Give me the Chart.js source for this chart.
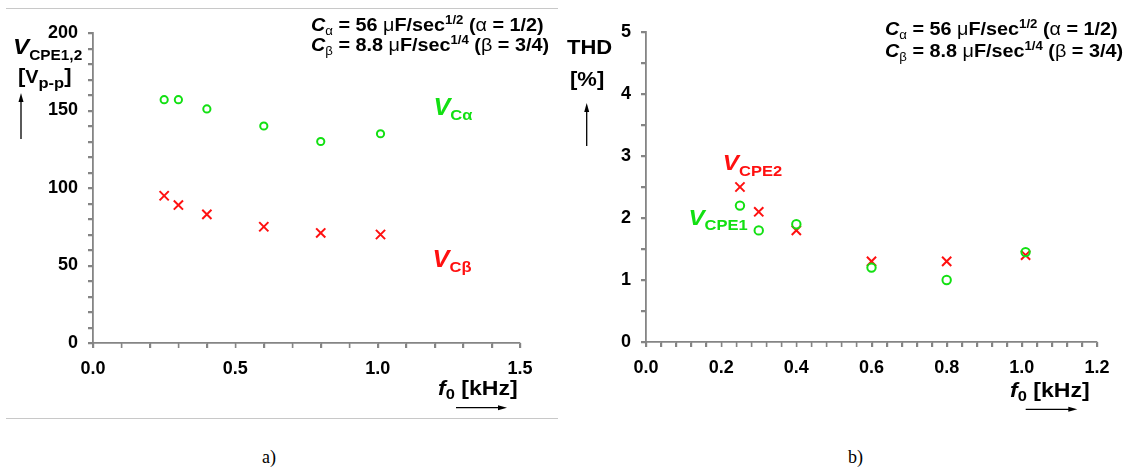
<!DOCTYPE html>
<html>
<head>
<meta charset="utf-8">
<script src="https://cdn.jsdelivr.net/npm/chart.js@4.4.1/dist/chart.umd.min.js"></script>
<style>
  body { margin: 0; background: #fff; }
  #wrap { position: relative; width: 1132px; height: 471px; overflow: hidden; }
  canvas { position: absolute; top: 0; }
  .rule { position: absolute; left: 6px; width: 552px; height: 1px; background: #c8c8c8; }
  .cap { position: absolute; font: 18px "Liberation Serif", serif; color: #000; }
</style>
</head>
<body>
<div id="wrap">
  <div class="rule" style="top:8px"></div>
  <div class="rule" style="top:418px"></div>
  <canvas id="graphA" width="560" height="420" style="left:0"></canvas>
  <canvas id="graphB" width="572" height="420" style="left:560px"></canvas>
  <div class="cap" style="left:262px;top:447px">a)</div>
  <div class="cap" style="left:848px;top:447px">b)</div>
</div>
<script>
// measured frequencies [kHz]
const freqs = [0.25, 0.3, 0.4, 0.6, 0.8, 1.01];
// a) amplitudes [Vp-p]
const vCalpha = [157, 157, 151, 140, 130, 135];
const vCbeta = [95, 89, 83, 75, 71, 70];
// b) THD [%]
const thdCpe1 = [2.2, 1.8, 1.9, 1.2, 1.0, 1.45];
const thdCpe2 = [2.5, 2.1, 1.8, 1.3, 1.3, 1.4];
// labelled ticks
const xTicksA = [0, 0.5, 1.0, 1.5];
const yTicksA = [0, 50, 100, 150, 200];
const xTicksB = [0, 0.2, 0.4, 0.6, 0.8, 1.0, 1.2];
const yTicksB = [0, 1, 2, 3, 4, 5];

const GREEN = '#12e012';
const RED = '#ff1010';
const AXIS = '#858585';
const FAM = '"Liberation Sans", Arial, sans-serif';
const f = (s) => s + ' ' + FAM;

function pts(xs, ys) {
  return xs.map((x, i) => ({ x: x, y: ys[i] }));
}

function labelFrom(list, digits) {
  return function (v) {
    const hit = list.find(t => Math.abs(t - v) < 1e-6);
    return hit === undefined ? '' : hit.toFixed(digits);
  };
}

// draws a run of text pieces (sub/superscripts, mixed fonts), slightly widened
function drawRich(ctx, x, y, parts, color) {
  ctx.save();
  ctx.translate(x, y);
  ctx.scale(1.1, 1);
  ctx.textBaseline = 'alphabetic';
  ctx.textAlign = 'left';
  let cx = 0;
  parts.forEach(p => {
    ctx.font = p.font;
    ctx.fillStyle = p.color || color || '#000';
    ctx.fillText(p.t, cx, p.dy || 0);
    cx += ctx.measureText(p.t).width;
  });
  ctx.restore();
}

function arrow(ctx, x1, y1, x2, y2) {
  const a = Math.atan2(y2 - y1, x2 - x1);
  ctx.save();
  ctx.strokeStyle = '#000';
  ctx.fillStyle = '#000';
  ctx.lineWidth = 1.3;
  ctx.beginPath();
  ctx.moveTo(x1, y1);
  ctx.lineTo(x2 - 5 * Math.cos(a), y2 - 5 * Math.sin(a));
  ctx.stroke();
  ctx.beginPath();
  ctx.moveTo(x2, y2);
  ctx.lineTo(x2 - 9 * Math.cos(a) + 2.5 * Math.sin(a), y2 - 9 * Math.sin(a) - 2.5 * Math.cos(a));
  ctx.lineTo(x2 - 9 * Math.cos(a) - 2.5 * Math.sin(a), y2 - 9 * Math.sin(a) + 2.5 * Math.cos(a));
  ctx.closePath();
  ctx.fill();
  ctx.restore();
}

const richLabels = {
  id: 'richLabels',
  afterDraw(chart, args, opts) {
    const ctx = chart.ctx;
    const area = chart.chartArea;
    // small outward tick marks on both axes
    ctx.save();
    ctx.strokeStyle = AXIS;
    ctx.lineWidth = 1.4;
    ctx.beginPath();
    chart.scales.x.ticks.forEach(t => {
      const px = Math.round(chart.scales.x.getPixelForValue(t.value)) + 0.5;
      ctx.moveTo(px, area.bottom);
      ctx.lineTo(px, area.bottom + 5);
    });
    chart.scales.y.ticks.forEach(t => {
      const py = Math.round(chart.scales.y.getPixelForValue(t.value)) + 0.5;
      ctx.moveTo(area.left, py);
      ctx.lineTo(area.left - 5, py);
    });
    ctx.stroke();
    ctx.restore();

    (opts.items || []).forEach(it => {
      let x = it.x, y = it.y;
      if (it.data) {
        x = chart.scales.x.getPixelForValue(it.data[0]);
        y = chart.scales.y.getPixelForValue(it.data[1]);
      }
      drawRich(ctx, x, y, it.parts, it.color);
    });
    (opts.arrows || []).forEach(a => arrow(ctx, a[0], a[1], a[2], a[3]));
  }
};

function paramLines(x, y1, y2) {
  const B = f('bold 18px'), N = f('18px'), S = f('12px'), SB = f('bold 12px'), CI = f('italic bold 18px');
  return [
    { x: x, y: y1, parts: [
      { t: 'C', font: CI }, { t: 'α', font: S, dy: 4 }, { t: ' = 56 ', font: B },
      { t: 'μ', font: N }, { t: 'F/sec', font: B }, { t: '1/2', font: SB, dy: -7 },
      { t: ' (', font: B }, { t: 'α', font: N }, { t: ' = 1/2)', font: B }] },
    { x: x, y: y2, parts: [
      { t: 'C', font: CI }, { t: 'β', font: S, dy: 4 }, { t: ' = 8.8 ', font: B },
      { t: 'μ', font: N }, { t: 'F/sec', font: B }, { t: '1/4', font: SB, dy: -7 },
      { t: ' (', font: B }, { t: 'β', font: N }, { t: ' = 3/4)', font: B }] }
  ];
}

function fTitle(x, y) {
  return { x: x, y: y, parts: [
    { t: 'f', font: f('italic bold 21px') }, { t: '0', font: f('bold 15px'), dy: 4 },
    { t: ' [kHz]', font: f('bold 21px') }] };
}

function axisCfg(min, max, step, list, digits, fit) {
  return {
    type: 'linear', min: min, max: max,
    ticks: {
      stepSize: step, autoSkip: false, maxRotation: 0, includeBounds: true,
      color: '#000', font: { family: FAM, size: 18, weight: 'bold' }, padding: 10,
      callback: labelFrom(list, digits)
    },
    grid: { drawOnChartArea: false, tickLength: 5, color: AXIS, tickColor: AXIS, lineWidth: 1.3 },
    border: { color: AXIS, width: 1.8 },
    afterFit: fit
  };
}

const circleSet = (data, r) => ({
  data: data, pointStyle: 'circle', pointRadius: r, borderWidth: 2,
  borderColor: GREEN, backgroundColor: 'rgba(0,0,0,0)', showLine: false
});
const crossSet = (data) => ({
  data: data, pointStyle: 'crossRot', pointRadius: 6.5, borderWidth: 2,
  borderColor: RED, backgroundColor: RED, showLine: false
});

// a) amplitude
new Chart(document.getElementById('graphA'), {
  type: 'scatter',
  data: { datasets: [circleSet(pts(freqs, vCalpha), 3.6), crossSet(pts(freqs, vCbeta))] },
  options: {
    responsive: false, animation: false,
    layout: { padding: { top: 33, right: 40, left: 0, bottom: 0 } },
    plugins: {
      legend: { display: false }, tooltip: { enabled: false },
      richLabels: {
        items: [
          { x: 13, y: 54, parts: [{ t: 'V', font: f('italic bold 22px') }, { t: 'CPE1,2', font: f('bold 14px'), dy: 6 }] },
          { x: 18, y: 83, parts: [{ t: '[', font: f('bold 20px') }, { t: 'V', font: f('bold 18px') },
            { t: 'p-p', font: f('bold 15px'), dy: 5 }, { t: ']', font: f('bold 20px') }] },
          ...paramLines(311, 30.7, 51),
          { data: [1.196, 147], color: GREEN, parts: [{ t: 'V', font: f('italic bold 23px') }, { t: 'Cα', font: f('bold 15px'), dy: 5 }] },
          { data: [1.193, 49], color: RED, parts: [{ t: 'V', font: f('italic bold 23px') }, { t: 'Cβ', font: f('bold 15px'), dy: 5 }] },
          fTitle(438, 395)
        ],
        arrows: [[21, 139, 21, 93], [456, 407.7, 507, 407.7]]
      }
    },
    scales: {
      x: axisCfg(0, 1.5, 0.1, xTicksA, 1, s => { s.height = 77; }),
      y: axisCfg(0, 200, 10, yTicksA, 0, s => { s.width = 93; })
    }
  },
  plugins: [richLabels]
});

// b) THD
new Chart(document.getElementById('graphB'), {
  type: 'scatter',
  data: { datasets: [circleSet(pts(freqs, thdCpe1), 4.2), crossSet(pts(freqs, thdCpe2))] },
  options: {
    responsive: false, animation: false,
    layout: { padding: { top: 32, right: 35, left: 0, bottom: 0 } },
    plugins: {
      legend: { display: false }, tooltip: { enabled: false },
      richLabels: {
        items: [
          { x: 7, y: 54.3, parts: [{ t: 'THD', font: f('bold 20px') }] },
          { x: 10, y: 85.5, parts: [{ t: '[%]', font: f('bold 20px') }] },
          ...paramLines(325, 35, 57),
          { data: [0.2045, 2.77], color: RED, parts: [{ t: 'V', font: f('italic bold 22px') }, { t: 'CPE2', font: f('bold 15px'), dy: 6 }] },
          { data: [0.113, 1.89], color: GREEN, parts: [{ t: 'V', font: f('italic bold 22px') }, { t: 'CPE1', font: f('bold 15px'), dy: 5 }] },
          fTitle(450, 397.3)
        ],
        arrows: [[26.7, 146, 26.7, 103], [465.7, 409.3, 517.3, 409.3]]
      }
    },
    scales: {
      x: axisCfg(0, 1.2, 0.04, xTicksB, 1, s => { s.height = 78; }),
      y: axisCfg(0, 5, 0.5, yTicksB, 0, s => { s.width = 86; })
    }
  },
  plugins: [richLabels]
});
</script>
</body>
</html>
